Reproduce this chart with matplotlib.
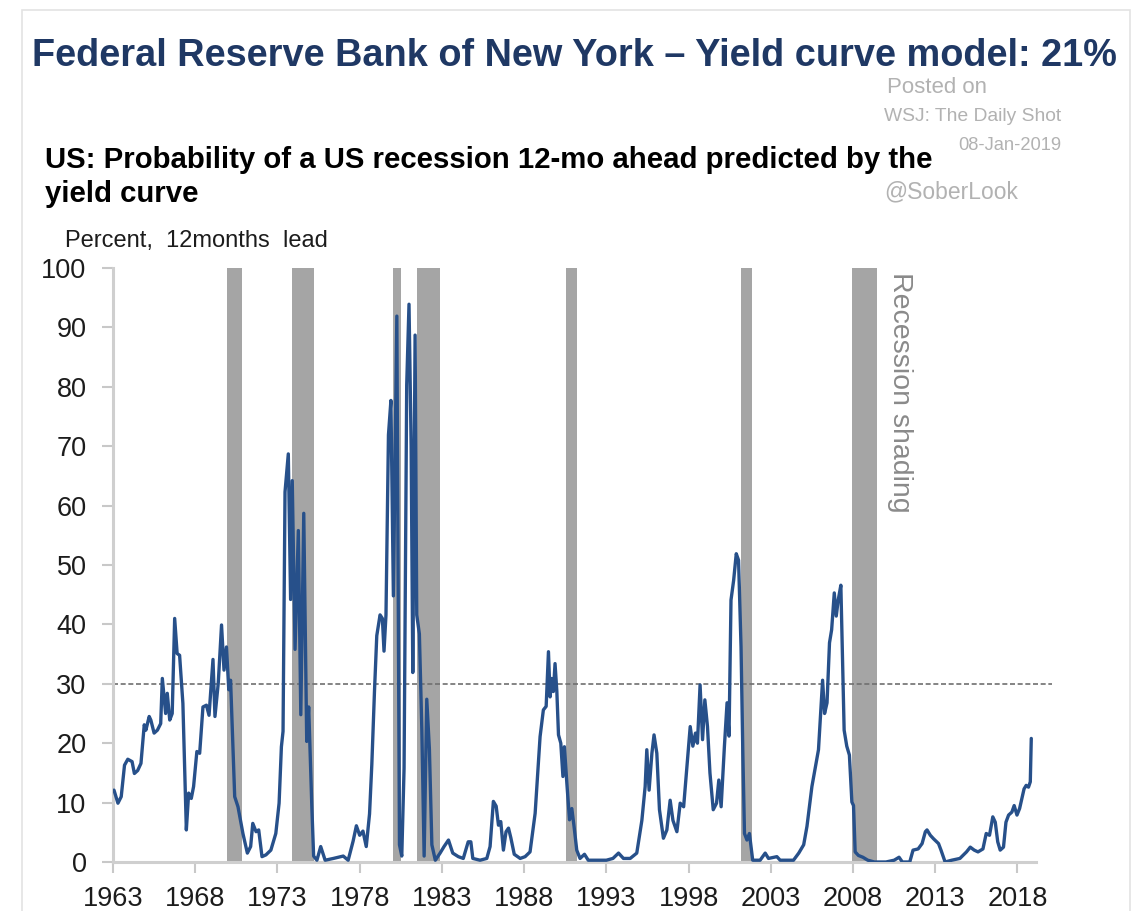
import matplotlib
matplotlib.use("Agg")
import matplotlib.pyplot as plt
from matplotlib.patches import Rectangle

plt.rcParams["font.family"] = ["Liberation Sans", "DejaVu Sans"]

# Recession probability (decimal year, percent)
dates = [1963.06, 1963.3, 1963.5, 1963.7, 1963.9, 1964.16, 1964.3, 1964.5, 1964.7, 1964.9,
         1965.0, 1965.2, 1965.3, 1965.5, 1965.7, 1965.9, 1966.0, 1966.2, 1966.3, 1966.45,
         1966.6, 1966.75, 1966.9, 1967.05, 1967.25, 1967.46, 1967.6, 1967.76, 1967.9, 1968.1,
         1968.27, 1968.47, 1968.68, 1968.84, 1969.08, 1969.2, 1969.4, 1969.6, 1969.75, 1969.9,
         1970.04, 1970.15, 1970.4, 1970.6, 1970.9, 1971.17, 1971.37, 1971.5, 1971.7, 1971.86,
         1972.06, 1972.3, 1972.6, 1972.9, 1973.1, 1973.24, 1973.34, 1973.46, 1973.66, 1973.8,
         1973.9, 1974.07, 1974.27, 1974.42, 1974.6, 1974.78, 1974.9, 1975.09, 1975.2, 1975.4,
         1975.63, 1975.9, 1976.4, 1977.0, 1977.3, 1977.6, 1977.8, 1978.0, 1978.2, 1978.4,
         1978.6, 1978.74, 1978.9, 1979.04, 1979.24, 1979.38, 1979.48, 1979.6, 1979.75, 1979.9,
         1980.05, 1980.26, 1980.42, 1980.56, 1980.7, 1980.86, 1981.0, 1981.13, 1981.23, 1981.37,
         1981.47, 1981.63, 1981.78, 1981.92, 1982.08, 1982.24, 1982.39, 1982.6, 1982.89, 1983.13,
         1983.4, 1983.66, 1984.0, 1984.3, 1984.6, 1984.76, 1984.88, 1985.32, 1985.73, 1985.93,
         1986.13, 1986.3, 1986.44, 1986.58, 1986.74, 1986.9, 1987.05, 1987.19, 1987.4, 1987.76,
         1988.06, 1988.36, 1988.67, 1988.97, 1989.17, 1989.34, 1989.48, 1989.58, 1989.68, 1989.78,
         1989.88, 1989.99, 1990.09, 1990.23, 1990.36, 1990.45, 1990.6, 1990.76, 1990.9, 1991.04,
         1991.2, 1991.4, 1991.67, 1991.9, 1992.4, 1993.0, 1993.4, 1993.74, 1994.04, 1994.45,
         1994.85, 1995.16, 1995.36, 1995.46, 1995.6, 1995.77, 1995.9, 1996.07, 1996.23, 1996.47,
         1996.68, 1996.88, 1997.05, 1997.29, 1997.49, 1997.7, 1997.9, 1998.1, 1998.26, 1998.42,
         1998.54, 1998.7, 1998.85, 1998.99, 1999.15, 1999.3, 1999.5, 1999.7, 1999.84, 1999.98,
         2000.18, 2000.34, 2000.46, 2000.58, 2000.74, 2000.9, 2001.04, 2001.19, 2001.3, 2001.4,
         2001.55, 2001.7, 2001.9, 2002.35, 2002.66, 2002.86, 2003.37, 2003.57, 2004.38, 2004.7,
         2005.0, 2005.2, 2005.5, 2005.7, 2005.9, 2006.06, 2006.15, 2006.27, 2006.42, 2006.57,
         2006.7, 2006.86, 2006.98, 2007.1, 2007.26, 2007.38, 2007.46, 2007.62, 2007.78, 2007.93,
         2008.03, 2008.13, 2008.33, 2008.6, 2008.9, 2009.3, 2010.0, 2010.5, 2010.8, 2011.0,
         2011.45, 2011.65, 2011.96, 2012.2, 2012.4, 2012.5, 2012.7, 2012.9, 2013.2, 2013.35,
         2013.6, 2014.0, 2014.5, 2014.9, 2015.13, 2015.37, 2015.6, 2015.9, 2016.1, 2016.3,
         2016.5, 2016.65, 2016.8, 2016.95, 2017.15, 2017.3, 2017.46, 2017.66, 2017.8, 2017.97,
         2018.13, 2018.27, 2018.4, 2018.53, 2018.67, 2018.78, 2018.84]
prob = [12.1, 9.9, 11.0, 16.3, 17.3, 16.9, 14.9, 15.4, 16.6, 23.1,
        22.2, 24.5, 23.9, 21.7, 22.2, 23.3, 30.9, 25.0, 28.4, 23.9,
        25.0, 41.0, 35.1, 34.8, 26.7, 5.4, 11.6, 10.7, 12.7, 18.6,
        18.3, 26.1, 26.4, 24.7, 34.1, 24.5, 30.1, 39.9, 32.3, 36.2,
        29.0, 30.6, 11.0, 9.3, 4.8, 1.5, 2.6, 6.5, 5.1, 5.4,
        0.9, 1.2, 2.0, 4.8, 9.9, 19.4, 22.0, 62.3, 68.7, 44.2,
        64.2, 35.8, 55.8, 24.8, 58.7, 20.3, 26.1, 9.4, 1.0, 0.3,
        2.6, 0.3, 0.6, 1.0, 0.3, 3.5, 6.1, 4.5, 5.2, 2.6,
        8.1, 16.5, 28.7, 38.1, 41.6, 41.0, 35.5, 41.6, 71.9, 77.7,
        44.8, 91.9, 2.9, 1.0, 15.8, 80.3, 93.9, 70.0, 31.9, 88.7,
        41.6, 38.4, 22.3, 1.0, 27.4, 19.0, 2.9, 0.3, 1.5, 2.6,
        3.7, 1.5, 0.9, 0.6, 3.4, 3.4, 0.6, 0.3, 0.6, 2.6,
        10.2, 9.4, 6.2, 6.8, 2.0, 5.1, 5.7, 4.1, 1.3, 0.6,
        0.9, 1.7, 8.2, 21.1, 25.6, 26.2, 35.4, 27.8, 30.9, 28.7,
        33.4, 28.7, 21.4, 20.0, 14.4, 19.4, 13.2, 7.1, 9.0, 5.9,
        2.0, 0.6, 1.3, 0.3, 0.3, 0.3, 0.6, 1.5, 0.6, 0.6,
        1.5, 7.0, 12.7, 18.9, 12.1, 18.3, 21.4, 18.3, 8.8, 4.0,
        5.4, 10.4, 7.0, 5.1, 9.9, 9.3, 16.1, 22.8, 19.5, 21.7,
        20.0, 29.8, 20.6, 27.3, 22.8, 15.0, 8.8, 9.9, 13.8, 9.3,
        19.5, 26.8, 21.2, 44.1, 47.4, 51.9, 50.8, 36.2, 18.3, 4.8,
        3.7, 4.8, 0.3, 0.3, 1.5, 0.6, 0.9, 0.3, 0.3, 1.5,
        2.9, 6.0, 12.7, 15.8, 18.9, 26.2, 30.6, 25.0, 26.8, 36.9,
        39.1, 45.3, 41.4, 44.1, 46.6, 32.3, 22.2, 19.5, 18.0, 10.1,
        9.5, 1.7, 1.1, 0.8, 0.3, 0.0, 0.0, 0.3, 0.8, 0.0,
        0.0, 2.0, 2.2, 3.1, 5.1, 5.4, 4.5, 3.9, 3.1, 2.0,
        0.0, 0.3, 0.6, 1.7, 2.5, 2.0, 1.7, 2.2, 4.8, 4.5,
        7.6, 6.7, 3.4, 2.0, 2.5, 6.7, 7.9, 8.4, 9.5, 7.9,
        9.0, 10.7, 12.3, 12.9, 12.6, 13.5, 20.8]

# NBER recessions (start, end) as decimal years
rec_start = [1969.92, 1973.87, 1980.0, 1981.5, 1990.54, 2001.2, 2007.95]
rec_end = [1970.87, 1975.2, 1980.54, 1982.9, 1991.21, 2001.87, 2009.46]

threshold = 30
tick_years = [1963, 1968, 1973, 1978, 1983, 1988, 1993, 1998, 2003, 2008, 2013, 2018]
y_ticks = [0, 10, 20, 30, 40, 50, 60, 70, 80, 90, 100]

W, H = 1133, 911


def fx(px):
    return px / W


def fy(py):
    return 1 - py / H


fig = plt.figure(figsize=(W / 100, H / 100), dpi=100)
fig.patches.append(Rectangle((fx(21.5), -0.02), fx(1130) - fx(21.5), fy(10) + 0.02,
                             transform=fig.transFigure, fill=False, ec="#e3e3e3", lw=1.2))

ax = fig.add_axes([fx(113), fy(862), fx(1052) - fx(113), fy(268) - fy(862)])

for s, e in zip(rec_start, rec_end):
    ax.axvspan(s, e, ymin=0, ymax=1, color="#a5a5a5", lw=0, zorder=1)

ax.axhline(threshold, color="#6f6f6f", lw=1.2, ls=(0, (3, 1.6)), zorder=2)
ax.plot(dates, prob, color="#27508a", lw=2.4, zorder=3,
        solid_joinstyle="round", solid_capstyle="round")

ax.set_xlim(1963, 2020.1)
ax.set_ylim(0, 100)
ax.set_xticks(tick_years)
ax.set_yticks(y_ticks)
ax.tick_params(axis="both", labelsize=19.5, labelcolor="#1c1c1c", color="#c8c8c8",
               width=1.5, length=8, direction="out")
ax.tick_params(axis="y", pad=11)
ax.tick_params(axis="x", pad=9)

for side in ["top", "right"]:
    ax.spines[side].set_visible(False)
for side in ["left", "bottom"]:
    ax.spines[side].set_color("#cfcfcf")
    ax.spines[side].set_linewidth(2.2)
ax.spines["bottom"].set_bounds(1963, 2019.1)

ax.text(2010.85, 99.3, "Recession shading", rotation=-90, ha="center", va="top",
        fontsize=20.5, color="#8a8a8a")

# Titles and notes
fig.text(fx(32), fy(66), "Federal Reserve Bank of New York \u2013 Yield curve model: 21%",
         fontsize=27.3, fontweight="bold", color="#1f3864", va="baseline")

wm = "#b2b2b2"
fig.text(fx(887), fy(93), "Posted on", fontsize=16, color=wm, va="baseline")
fig.text(fx(884), fy(121), "WSJ: The Daily Shot", fontsize=13.9, color=wm, va="baseline")
fig.text(fx(958), fy(150), "08-Jan-2019", fontsize=13.2, color=wm, va="baseline")
fig.text(fx(884), fy(198), "@SoberLook", fontsize=16.5, color=wm, va="baseline")

fig.text(fx(45), fy(168), "US: Probability of a US recession 12-mo ahead predicted by the",
         fontsize=21.2, fontweight="bold", color="black", va="baseline", zorder=5)
fig.text(fx(45), fy(202), "yield curve", fontsize=21.2, fontweight="bold", color="black",
         va="baseline", zorder=5)
fig.text(fx(65), fy(247), "Percent,  12months  lead", fontsize=17, color="#1c1c1c",
         va="baseline")

fig.savefig("out.png", dpi=100, facecolor="white")
